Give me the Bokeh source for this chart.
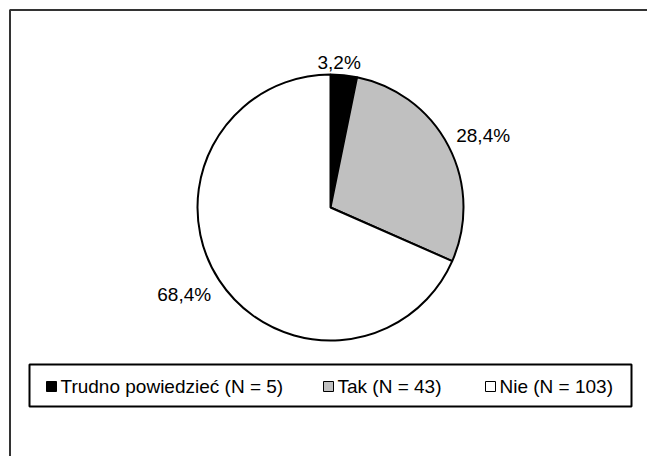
import math
from bokeh.plotting import figure
from bokeh.models import Range1d, ColumnDataSource
from bokeh.core.properties import value
from bokeh.embed import file_html
from bokeh.resources import INLINE

# ---- data ----
categories = ["Trudno powiedzieć", "Tak", "Nie"]
counts = [5, 43, 103]
percents = [3.2, 28.4, 68.4]
pct_labels = ["3,2%", "28,4%", "68,4%"]
legend_labels = ["Trudno powiedzieć (N = 5)", "Tak (N = 43)", "Nie (N = 103)"]

# ---- styles / layout ----
colors = ["#000000", "#c0c0c0", "#ffffff"]
W, H = 647, 456
FONT = "Liberation Sans"
cx, cy, R = 330, H - 207, 133

p = figure(width=W, height=H, output_backend="svg", toolbar_location=None,
           x_range=Range1d(0, W), y_range=Range1d(0, H), min_border=0)
p.axis.visible = False
p.grid.visible = False
p.outline_line_color = None
p.background_fill_color = "white"
p.border_fill_color = "white"

# outer chart border (cut off at right/bottom)
p.line([9.5, 9.5, W + 5], [-5, H - 9.5, H - 9.5], line_color="#333333", line_width=2)

# legend box
lb_x0, lb_x1, lb_top, lb_bot = 29, 631, 364, 406
p.quad(left=lb_x0, right=lb_x1, top=H - lb_top, bottom=H - lb_bot,
       fill_color="white", line_color="black", line_width=2)
sq_x = [51, 328, 490]
ly_leg = H - 386
p.rect(x=sq_x, y=[ly_leg] * 3, width=10, height=10, fill_color=colors,
       line_color="black", line_width=1)
p.text(x=[x + 9 for x in sq_x], y=[ly_leg] * 3, text=legend_labels,
       text_font=value(FONT), text_font_size="19px", text_align="left",
       text_baseline="middle", text_color="black")

# pie wedges
total = sum(percents)
starts, ends = [], []
acc = 0.0
for v in percents:
    a0 = math.pi / 2 - 2 * math.pi * acc / total
    acc += v
    a1 = math.pi / 2 - 2 * math.pi * acc / total
    starts.append(a1)
    ends.append(a0)
src = ColumnDataSource(dict(start=starts, end=ends, color=colors))
p.wedge(x=cx, y=cy, radius=R, start_angle="start", end_angle="end",
        fill_color="color", line_color="black", line_width=2, source=src)

# percentage labels
label_off = [(-6, 0), (23, 5), (-24, -7)]
lx, ly = [], []
acc = 0.0
for i, v in enumerate(percents):
    mid = math.pi / 2 - 2 * math.pi * (acc + v / 2) / total
    acc += v
    r = R + 13
    lx.append(cx + r * math.cos(mid) + label_off[i][0])
    ly.append(cy + r * math.sin(mid) + label_off[i][1])
p.text(x=lx, y=ly, text=pct_labels, text_font=value(FONT), text_font_size="19px",
       text_align="center", text_baseline="middle", text_color="black")

open("out.html", "w").write(file_html(p, INLINE))
